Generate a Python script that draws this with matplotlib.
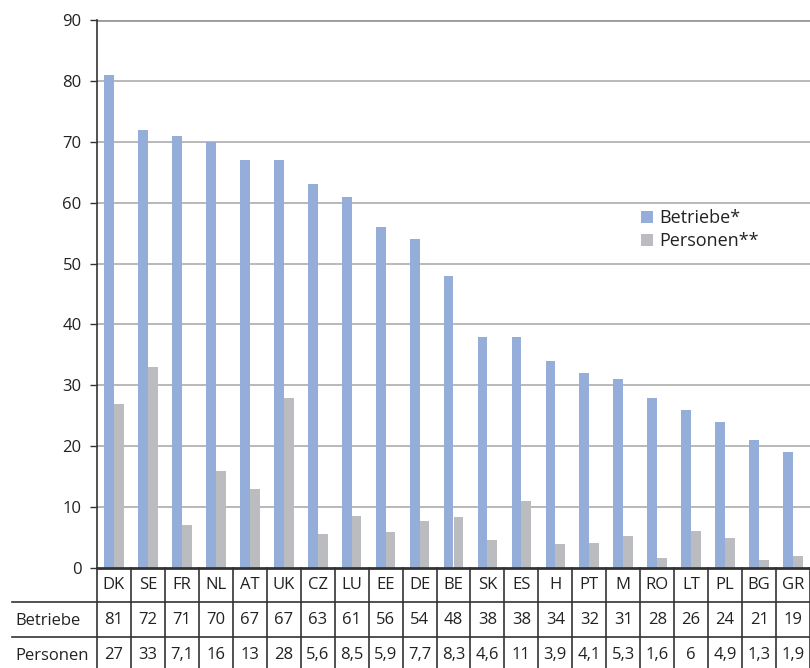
import matplotlib.pyplot as plt
import numpy as np
from matplotlib.transforms import blended_transform_factory

plt.rcParams['font.family'] = ['Open Sans', 'DejaVu Sans']

laender = ['DK', 'SE', 'FR', 'NL', 'AT', 'UK', 'CZ', 'LU', 'EE', 'DE', 'BE',
           'SK', 'ES', 'H', 'PT', 'M', 'RO', 'LT', 'PL', 'BG', 'GR']
betriebe = [81, 72, 71, 70, 67, 67, 63, 61, 56, 54, 48,
            38, 38, 34, 32, 31, 28, 26, 24, 21, 19]
personen = [27, 33, 7.1, 16, 13, 28, 5.6, 8.5, 5.9, 7.7, 8.3,
            4.6, 11, 3.9, 4.1, 5.3, 1.6, 6, 4.9, 1.3, 1.9]
personen_text = ['27', '33', '7,1', '16', '13', '28', '5,6', '8,5', '5,9', '7,7', '8,3',
                 '4,6', '11', '3,9', '4,1', '5,3', '1,6', '6', '4,9', '1,3', '1,9']

blau = '#95aed9'
grau = '#bbbcbf'
dunkel = '#333333'

W, H = 810, 668
fig = plt.figure(figsize=(W / 100, H / 100), dpi=100)
ax = fig.add_axes([97 / W, 100 / H, 713 / W, 548 / H])

x = np.arange(len(laender))
bw = 0.29
ax.bar(x - bw / 2, betriebe, bw, color=blau, label='Betriebe*', zorder=3)
ax.bar(x + bw / 2, personen, bw, color=grau, label='Personen**', zorder=3)

ax.set_xlim(-0.5, len(laender) - 0.5)
ax.set_ylim(0, 90)
ax.set_yticks(range(0, 91, 10))
ax.tick_params(axis='y', labelsize=12, length=5, width=1, color=dunkel,
               labelcolor='#222222', pad=6)
ax.set_xticks(np.arange(len(laender) + 1) - 0.5)
ax.set_xticklabels([])
ax.tick_params(axis='x', length=0)

for v in range(10, 90, 10):
    ax.axhline(v, color='#b3b3b3', lw=1.3, zorder=1)
ax.axhline(90, color='#9a9a9a', lw=2, zorder=1)

for s in ['top', 'right']:
    ax.spines[s].set_visible(False)
ax.spines['left'].set_color(dunkel)
ax.spines['left'].set_linewidth(1.2)
ax.spines['bottom'].set_color(dunkel)
ax.spines['bottom'].set_linewidth(2)
ax.spines['bottom'].set_zorder(4)

leg = ax.legend(loc='upper left', bbox_to_anchor=(0.74, 0.685), frameon=False,
                fontsize=13, handlelength=0.65, handleheight=0.65,
                handletextpad=0.35, labelspacing=0.3)
for t in leg.get_texts():
    t.set_color('#222222')

# Datentabelle unterhalb der Achse (x in Daten, y in Pixeln von oben)
def py(p):
    return 1 - p / H

tr = blended_transform_factory(ax.transData, fig.transFigure)
trf = fig.transFigure
n = len(laender)

for i in range(n + 1):
    ax.plot([i - 0.5, i - 0.5], [py(568), py(668)], transform=tr,
            color=dunkel, lw=1.2, clip_on=False, zorder=5)
for yl in [602, 637]:
    fig.add_artist(plt.Line2D([12 / W, 1], [py(yl), py(yl)], transform=trf,
                              color=dunkel, lw=1.2))

for i in range(n):
    ax.text(i, py(585), laender[i], transform=tr, ha='center', va='center',
            fontsize=12, color='#222222', clip_on=False)
    ax.text(i, py(620), str(betriebe[i]), transform=tr, ha='center', va='center',
            fontsize=12, color='#222222', clip_on=False)
    ax.text(i, py(655), personen_text[i], transform=tr, ha='center', va='center',
            fontsize=12, color='#222222', clip_on=False)

fig.text(15 / W, py(621), 'Betriebe', ha='left', va='center', fontsize=12,
         color='#222222')
fig.text(15 / W, py(656), 'Personen', ha='left', va='center', fontsize=12,
         color='#222222')

fig.savefig('out.png', dpi=100)
